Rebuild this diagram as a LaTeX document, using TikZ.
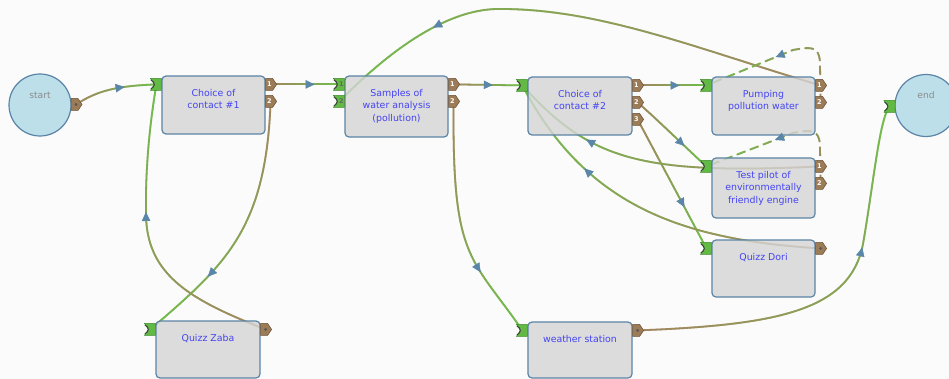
\documentclass[tikz,border=0pt]{standalone}
\usepackage{fontspec}
\setmainfont{DejaVu Sans}
\usetikzlibrary{arrows.meta,decorations.markings,calc}
\pgfdeclarelayer{bgl}
\pgfdeclarelayer{edges}
\pgfsetlayers{bgl,edges,main}
\definecolor{bg}{HTML}{FBFBFB}
\definecolor{boxfill}{HTML}{D5D5D5}
\definecolor{boxline}{HTML}{5B84A6}
\definecolor{circfill}{HTML}{BCDFEA}
\definecolor{txtblue}{HTML}{4444F2}
\definecolor{egreen}{HTML}{70BE4C}
\definecolor{ebrown}{HTML}{A3855F}
\definecolor{arrowblue}{HTML}{5A86A8}
\definecolor{pgreen}{HTML}{62B944}
\definecolor{pgreenD}{HTML}{3F8A2C}
\definecolor{pbrown}{HTML}{9C7B57}
\definecolor{pbrownD}{HTML}{6B5035}
\newcommand\gradseg{%
  \pgfmathsetmacro\gp{min(100,max(0,\pgfkeysvalueof{/pgf/decoration/mark info/distance from start}/\pgfdecoratedpathlength*100))}%
  \pgfsetcolor{egreen!\gp!ebrown}%
  \pgfsetlinewidth{1.8pt}%
  \pgfpathmoveto{\pgfpoint{-0.75pt}{0pt}}\pgfpathlineto{\pgfpoint{0.75pt}{0pt}}\pgfusepath{stroke}%
}
\newcommand\gradsegdash{%
  \pgfmathtruncatemacro\gon{mod(\pgfkeysvalueof{/pgf/decoration/mark info/distance from start},14)<8.5}%
  \ifnum\gon=1 \gradseg\fi
}
\newcommand\inport[1]{%
  \filldraw[fill=pgreen, draw=pgreenD, line width=0.5pt] ($(#1)+(-6,-6)$) -- ($(#1)+(5,-6)$) -- ($(#1)+(5,6)$) -- ($(#1)+(-6,6)$) -- ($(#1)+(-2,0)$) -- cycle;
  \draw[line width=1pt, draw=black!75] ($(#1)+(-5.5,-4.5)$) .. controls ($(#1)+(-1,-2)$) and ($(#1)+(-1,2)$) .. ($(#1)+(-5.5,4.5)$);
}
\newcommand\outport[2]{%
  \filldraw[fill=pbrown, draw=pbrownD, line width=0.5pt] ($(#1)+(-5,-6)$) -- ($(#1)+(2,-6)$) -- ($(#1)+(6,0)$) -- ($(#1)+(2,6)$) -- ($(#1)+(-5,6)$) -- cycle;
  \node[portnum] (#1-l) at ($(#1)+(-1.3,0)$) {#2};
}
\newcommand\dotport[1]{%
  \filldraw[fill=pbrown, draw=pbrownD, line width=0.5pt] ($(#1)+(-5,-6)$) -- ($(#1)+(2,-6)$) -- ($(#1)+(6,0)$) -- ($(#1)+(2,6)$) -- ($(#1)+(-5,6)$) -- cycle;
  \fill[black!65] (#1) circle (1.6pt);
}
\tikzset{
  box/.style={draw=boxline, line width=1.2pt, fill=boxfill, fill opacity=0.8, rounded corners=4pt, minimum width=103pt, minimum height=58pt, inner sep=0pt},
  boxtext/.style={text=txtblue, font=\fontsize{9.4}{12.7}\selectfont, align=center, inner sep=0pt, anchor=north},
  circ/.style={circle, draw=boxline, line width=1.2pt, fill=circfill, minimum size=62pt, inner sep=0pt},
  circtext/.style={text=black!45, font=\fontsize{9.2}{11}\selectfont, inner sep=0pt},
  portnum/.style={text=white, font=\fontsize{6.5}{7}\selectfont\bfseries, inner sep=0pt},
  edge/.style={postaction={decorate, decoration={markings, mark=between positions 0 and 1 step 1pt with {\gradseg}}}},
  dedge/.style={postaction={decorate, decoration={markings, mark=between positions 0 and 1 step 1pt with {\gradsegdash}}}},
  arr/.style={postaction={decorate, decoration={markings, mark=at position #1 with {\arrow[arrowblue]{Triangle[length=9pt,width=8.5pt]}}}}},
}
\begin{document}
\begin{tikzpicture}[x=1pt, y=-1pt]
\begin{pgfonlayer}{bgl}
\fill[bg] (0,0) rectangle (949,379);
\end{pgfonlayer}
\useasboundingbox (0,0) rectangle (949,379);

% boxes
\node[circ] (start) at (40,105) {};
\node[circ] (end) at (926,105.5) {};
\node[box] (c1) at (213.5,105) {};
\node[box, minimum height=61pt] (samp) at (396.5,106.5) {};
\node[box, minimum width=104pt] (c2) at (580,106) {};
\node[box] (pump) at (763.5,106) {};
\node[box, minimum height=60pt] (test) at (763.5,188) {};
\node[box, minimum height=57pt] (dori) at (763.5,268.5) {};
\node[box, minimum width=104pt, minimum height=57pt] (zaba) at (208,349.5) {};
\node[box, minimum width=104pt, minimum height=56pt] (ws) at (580,350) {};

% texts
\node[circtext] (startt) at (40,95) {start};
\node[circtext] (endt) at (926,95) {end};
\node[boxtext] (c1t) at ([yshift=-13.5pt]c1.north) {Choice of\\contact \#1};
\node[boxtext] (sampt) at ([yshift=-13.5pt]samp.north) {Samples of\\water analysis\\(pollution)};
\node[boxtext] (c2t) at ([yshift=-13.5pt]c2.north) {Choice of\\contact \#2};
\node[boxtext] (pumpt) at ([yshift=-13.5pt]pump.north) {Pumping\\pollution water};
\node[boxtext] (testt) at ([yshift=-13.5pt]test.north) {Test pilot of\\environmentally\\friendly engine};
\node[boxtext] (dorit) at ([yshift=-13.5pt]dori.north) {Quizz Dori};
\node[boxtext] (zabat) at ([yshift=-13.5pt]zaba.north) {Quizz Zaba};
\node[boxtext] (wst) at ([yshift=-13.5pt]ws.north) {weather station};

% port anchors
\coordinate (start-o) at (76,104.5);
\coordinate (end-i) at (890,106.5);
\coordinate (c1-i) at ($(c1.north west)+(-5,9)$);
\coordinate (c1-o1) at ($(c1.north east)+(5,9)$);
\coordinate (c1-o2) at ($(c1.north east)+(5,26)$);
\coordinate (samp-i1) at ($(samp.north west)+(-5,9)$);
\coordinate (samp-i2) at ($(samp.north west)+(-5,26)$);
\coordinate (samp-o1) at ($(samp.north east)+(5,9)$);
\coordinate (samp-o2) at ($(samp.north east)+(5,26)$);
\coordinate (c2-i) at ($(c2.north west)+(-5,9)$);
\coordinate (c2-o1) at ($(c2.north east)+(5,9)$);
\coordinate (c2-o2) at ($(c2.north east)+(5,26)$);
\coordinate (c2-o3) at ($(c2.north east)+(5,43)$);
\coordinate (pump-i) at ($(pump.north west)+(-5,9)$);
\coordinate (pump-o1) at ($(pump.north east)+(5,9)$);
\coordinate (pump-o2) at ($(pump.north east)+(5,26)$);
\coordinate (test-i) at ($(test.north west)+(-5,9)$);
\coordinate (test-o1) at ($(test.north east)+(5,9)$);
\coordinate (test-o2) at ($(test.north east)+(5,26)$);
\coordinate (dori-i) at ($(dori.north west)+(-5,9)$);
\coordinate (dori-o) at ($(dori.north east)+(5,9)$);
\coordinate (zaba-i) at ($(zaba.north west)+(-5,9)$);
\coordinate (zaba-o) at ($(zaba.north east)+(5,9)$);
\coordinate (ws-i) at ($(ws.north west)+(-5,9)$);
\coordinate (ws-o) at ($(ws.north east)+(5,9)$);

% edges (under boxes)
\begin{pgfonlayer}{edges}
\path[edge, arr=0.62] (start-o) .. controls (97,91) and (115,86) .. (c1-i);
\path[edge, arr=0.64] (c1-o1) -- (samp-i1);
\path[edge, arr=0.71] (c1-o2) .. controls (266,230) and (225,265) .. (zaba-i);
\path[edge, arr=0.585] (zaba-o) .. controls (190,300) and (147,275) .. (146,215) .. controls (145,160) and (152,110) .. (c1-i);
\path[edge, arr=0.57] (samp-o1) -- (c2-i);
\path[edge, arr=0.71] (samp-o2) .. controls (452,260) and (470,255) .. (ws-i);
\path[edge, arr=0.64] (ws-o) .. controls (780,325) and (850,310) .. (863,244) .. controls (874,180) and (880,115) .. (end-i);
\path[edge, arr=0.61] (c2-o1) -- (pump-i);
\path[edge, arr=0.68] (c2-o2) .. controls (660,122) and (685,147) .. (test-i);
\path[edge, arr=0.68] (c2-o3) -- (dori-i);
\path[edge, arr=0.74] (test-o1) .. controls (640,175) and (590,160) .. (c2-i);
\path[edge, arr=0.71] (dori-o) .. controls (680,240) and (585,205) .. (c2-i);
\path[edge, arr=0.77] (pump-o1) .. controls (700,50) and (600,8) .. (497,9) .. controls (440,10) and (380,60) .. (samp-i2);
\path[dedge, arr=0.56] (pump-o2) -- (820,65) .. controls (820,45) and (810,47) .. (793,50) -- (pump-i);
\path[dedge] (test-o2) -- (820,148) .. controls (820,128) and (810,130) .. (793,133) -- (test-i);
\end{pgfonlayer}
% arrowhead of the lower loop lies over the box edge
\path[arr=0.56] (test-o2) -- (820,148) .. controls (820,128) and (810,130) .. (793,133) -- (test-i);

% ports
\dotport{start-o}
\inport{end-i}
\inport{c1-i}
\outport{c1-o1}{1}
\outport{c1-o2}{2}
\inport{samp-i1}
\inport{samp-i2}
\node[portnum, text=black!60] (samp-i1-l) at ($(samp-i1)+(2,0)$) {1};
\node[portnum, text=black!60] (samp-i2-l) at ($(samp-i2)+(2,0)$) {2};
\outport{samp-o1}{1}
\outport{samp-o2}{2}
\inport{c2-i}
\outport{c2-o1}{1}
\outport{c2-o2}{2}
\outport{c2-o3}{3}
\inport{pump-i}
\outport{pump-o1}{1}
\outport{pump-o2}{2}
\inport{test-i}
\outport{test-o1}{1}
\outport{test-o2}{2}
\inport{dori-i}
\dotport{dori-o}
\inport{zaba-i}
\dotport{zaba-o}
\inport{ws-i}
\dotport{ws-o}
\end{tikzpicture}
\end{document}
